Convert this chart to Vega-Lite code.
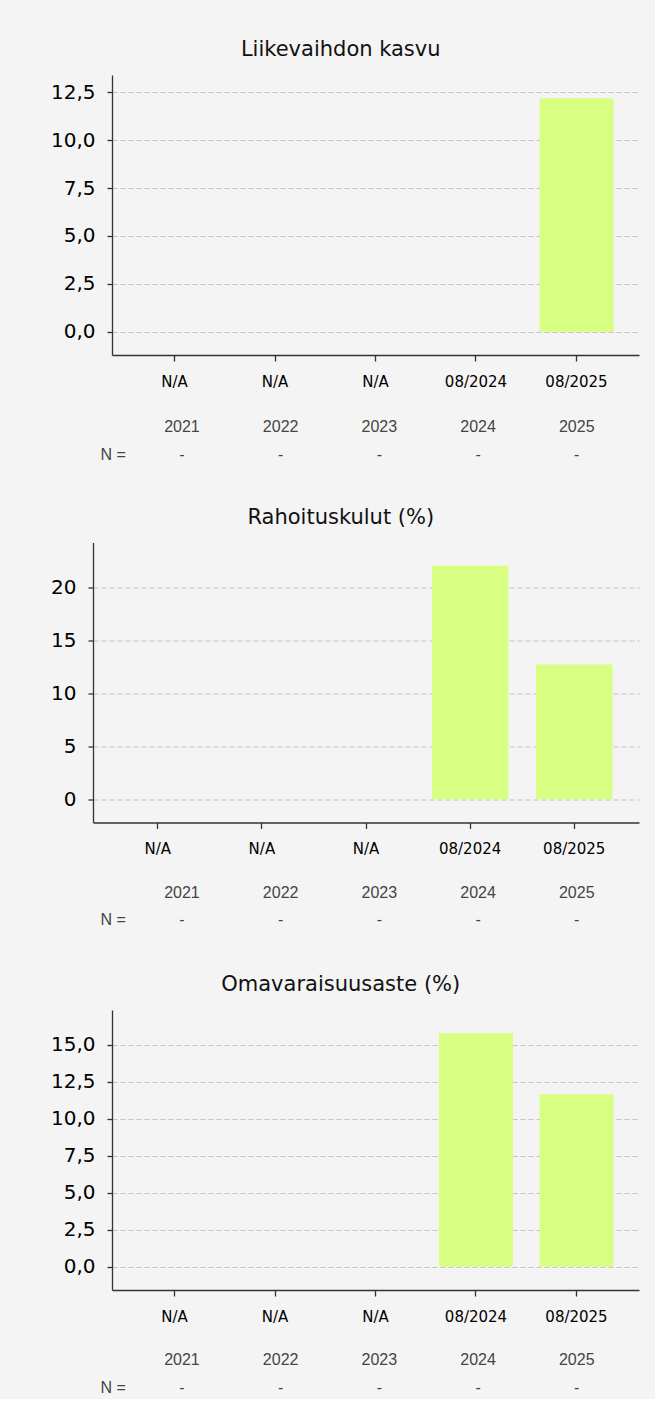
{
  "$schema": "https://vega.github.io/schema/vega-lite/v6.json",
  "background": "#f4f4f4",
  "padding": {"left": 49, "top": 39, "right": 16, "bottom": 2},
  "config": {
    "view": {"stroke": null},
    "locale": {"number": {"decimal": ",", "thousands": "\u00a0", "grouping": [3], "currency": ["", " €"]}},
    "font": "DejaVu Sans",
    "title": {"fontSize": 21, "fontWeight": "normal", "color": "#111111", "font": "DejaVu Sans", "anchor": "middle", "frame": "bounds", "offset": 15, "dx": -4},
    "axis": {"domainColor": "#333333", "tickColor": "#333333", "domainWidth": 1.3, "tickWidth": 1.3, "labelColor": "#000000", "labelFont": "DejaVu Sans", "title": null},
    "axisX": {"labelFontSize": 15, "tickSize": 6, "labelPadding": 13, "labelAngle": 0, "grid": false},
    "axisY": {"labelFontSize": 20, "tickSize": 5, "labelPadding": 12, "grid": true, "gridColor": "#c4c4c4", "gridDash": [5, 3], "gridWidth": 1}
  },
  "datasets": {
    "kasvu": [
      {"year": "2021", "value": null},
      {"year": "2022", "value": null},
      {"year": "2023", "value": null},
      {"year": "2024", "value": null},
      {"year": "2025", "value": 12.19}
    ],
    "rahoitus": [
      {"year": "2021", "value": null},
      {"year": "2022", "value": null},
      {"year": "2023", "value": null},
      {"year": "2024", "value": 22.08},
      {"year": "2025", "value": 12.74}
    ],
    "omavarais": [
      {"year": "2021", "value": null},
      {"year": "2022", "value": null},
      {"year": "2023", "value": null},
      {"year": "2024", "value": 15.77},
      {"year": "2025", "value": 11.66}
    ],
    "table": [
      {"col": "2021", "row": "year", "label": "2021"},
      {"col": "2022", "row": "year", "label": "2022"},
      {"col": "2023", "row": "year", "label": "2023"},
      {"col": "2024", "row": "year", "label": "2024"},
      {"col": "2025", "row": "year", "label": "2025"},
      {"col": "N =", "row": "n", "label": "N ="},
      {"col": "2021", "row": "n", "label": "-"},
      {"col": "2022", "row": "n", "label": "-"},
      {"col": "2023", "row": "n", "label": "-"},
      {"col": "2024", "row": "n", "label": "-"},
      {"col": "2025", "row": "n", "label": "-"}
    ],
    "empty": []
  },
  "columns": 1,
  "spacing": 17.25,
  "concat": [
    {"spacing": 0, "hconcat": [
      {"width": 1, "height": 280, "data": {"name": "empty"}, "mark": {"type": "point"}},
      {
        "title": {"text": "Liikevaihdon kasvu"},
        "width": 527,
        "height": 280,
        "data": {"name": "kasvu"},
        "mark": {"type": "bar", "color": "#d8fe82"},
        "encoding": {
          "x": {"field": "year", "type": "ordinal", "scale": {"domain": ["2021", "2022", "2023", "2024", "2025"], "paddingInner": 0.264, "paddingOuter": 0.254},
                "axis": {"labelExpr": "datum.value == '2024' ? '08/2024' : datum.value == '2025' ? '08/2025' : 'N/A'"}},
          "y": {"field": "value", "type": "quantitative", "scale": {"domain": [-1.219, 13.409], "nice": false, "zero": false},
                "axis": {"values": [0, 2.5, 5, 7.5, 10, 12.5], "format": ".1f"}}
        }
      }
    ]},
    {
      "width": 562,
      "height": 82.5,
      "data": {"name": "table"},
      "layer": [
        {
          "transform": [{"filter": "datum.col != 'N ='"}],
          "mark": {"type": "text", "font": "Liberation Sans", "fontSize": 16, "color": "#444444"},
          "encoding": {
            "x": {"field": "col", "type": "nominal", "scale": {"type": "point", "domain": ["N =", "2021", "2022", "2023", "2024", "2025"], "padding": 0.347}, "axis": null},
            "y": {"field": "row", "type": "nominal", "scale": {"type": "point", "domain": ["year", "n"], "padding": 1, "align": 0.378}, "axis": null},
            "text": {"field": "label"}
          }
        },
        {
          "transform": [{"filter": "datum.col == 'N ='"}],
          "mark": {"type": "text", "font": "Liberation Sans", "fontSize": 16, "color": "#444444", "dx": 30},
          "encoding": {
            "x": {"field": "col", "type": "nominal", "scale": {"type": "point", "domain": ["N =", "2021", "2022", "2023", "2024", "2025"], "padding": 0.347}, "axis": null},
            "y": {"field": "row", "type": "nominal", "scale": {"type": "point", "domain": ["year", "n"], "padding": 1, "align": 0.378}, "axis": null},
            "text": {"field": "label"}
          }
        }
      ]
    },
    {"spacing": 0, "hconcat": [
      {"width": 1, "height": 280, "data": {"name": "empty"}, "mark": {"type": "point"}},
      {
        "title": {"text": "Rahoituskulut (%)"},
        "width": 546,
        "height": 280,
        "data": {"name": "rahoitus"},
        "mark": {"type": "bar", "color": "#d8fe82"},
        "encoding": {
          "x": {"field": "year", "type": "ordinal", "scale": {"domain": ["2021", "2022", "2023", "2024", "2025"], "paddingInner": 0.264, "paddingOuter": 0.254},
                "axis": {"labelExpr": "datum.value == '2024' ? '08/2024' : datum.value == '2025' ? '08/2025' : 'N/A'"}},
          "y": {"field": "value", "type": "quantitative", "scale": {"domain": [-2.208, 24.288], "nice": false, "zero": false},
                "axis": {"values": [0, 5, 10, 15, 20], "format": "d"}}
        }
      }
    ]},
    {
      "width": 562,
      "height": 82.5,
      "data": {"name": "table"},
      "layer": [
        {
          "transform": [{"filter": "datum.col != 'N ='"}],
          "mark": {"type": "text", "font": "Liberation Sans", "fontSize": 16, "color": "#444444"},
          "encoding": {
            "x": {"field": "col", "type": "nominal", "scale": {"type": "point", "domain": ["N =", "2021", "2022", "2023", "2024", "2025"], "padding": 0.347}, "axis": null},
            "y": {"field": "row", "type": "nominal", "scale": {"type": "point", "domain": ["year", "n"], "padding": 1, "align": 0.345}, "axis": null},
            "text": {"field": "label"}
          }
        },
        {
          "transform": [{"filter": "datum.col == 'N ='"}],
          "mark": {"type": "text", "font": "Liberation Sans", "fontSize": 16, "color": "#444444", "dx": 30},
          "encoding": {
            "x": {"field": "col", "type": "nominal", "scale": {"type": "point", "domain": ["N =", "2021", "2022", "2023", "2024", "2025"], "padding": 0.347}, "axis": null},
            "y": {"field": "row", "type": "nominal", "scale": {"type": "point", "domain": ["year", "n"], "padding": 1, "align": 0.345}, "axis": null},
            "text": {"field": "label"}
          }
        }
      ]
    },
    {"spacing": 0, "hconcat": [
      {"width": 1, "height": 280, "data": {"name": "empty"}, "mark": {"type": "point"}},
      {
        "title": {"text": "Omavaraisuusaste (%)"},
        "width": 527,
        "height": 280,
        "data": {"name": "omavarais"},
        "mark": {"type": "bar", "color": "#d8fe82"},
        "encoding": {
          "x": {"field": "year", "type": "ordinal", "scale": {"domain": ["2021", "2022", "2023", "2024", "2025"], "paddingInner": 0.264, "paddingOuter": 0.254},
                "axis": {"labelExpr": "datum.value == '2024' ? '08/2024' : datum.value == '2025' ? '08/2025' : 'N/A'"}},
          "y": {"field": "value", "type": "quantitative", "scale": {"domain": [-1.577, 17.347], "nice": false, "zero": false},
                "axis": {"values": [0, 2.5, 5, 7.5, 10, 12.5, 15], "format": ".1f"}}
        }
      }
    ]},
    {
      "width": 562,
      "height": 55,
      "data": {"name": "table"},
      "layer": [
        {
          "transform": [{"filter": "datum.col != 'N ='"}],
          "mark": {"type": "text", "font": "Liberation Sans", "fontSize": 16, "color": "#444444"},
          "encoding": {
            "x": {"field": "col", "type": "nominal", "scale": {"type": "point", "domain": ["N =", "2021", "2022", "2023", "2024", "2025"], "padding": 0.347}, "axis": null},
            "y": {"field": "row", "type": "nominal", "scale": {"type": "point", "domain": ["year", "n"], "padding": 0.5, "align": 0.693}, "axis": null},
            "text": {"field": "label"}
          }
        },
        {
          "transform": [{"filter": "datum.col == 'N ='"}],
          "mark": {"type": "text", "font": "Liberation Sans", "fontSize": 16, "color": "#444444", "dx": 30},
          "encoding": {
            "x": {"field": "col", "type": "nominal", "scale": {"type": "point", "domain": ["N =", "2021", "2022", "2023", "2024", "2025"], "padding": 0.347}, "axis": null},
            "y": {"field": "row", "type": "nominal", "scale": {"type": "point", "domain": ["year", "n"], "padding": 0.5, "align": 0.693}, "axis": null},
            "text": {"field": "label"}
          }
        }
      ]
    }
  ]
}
